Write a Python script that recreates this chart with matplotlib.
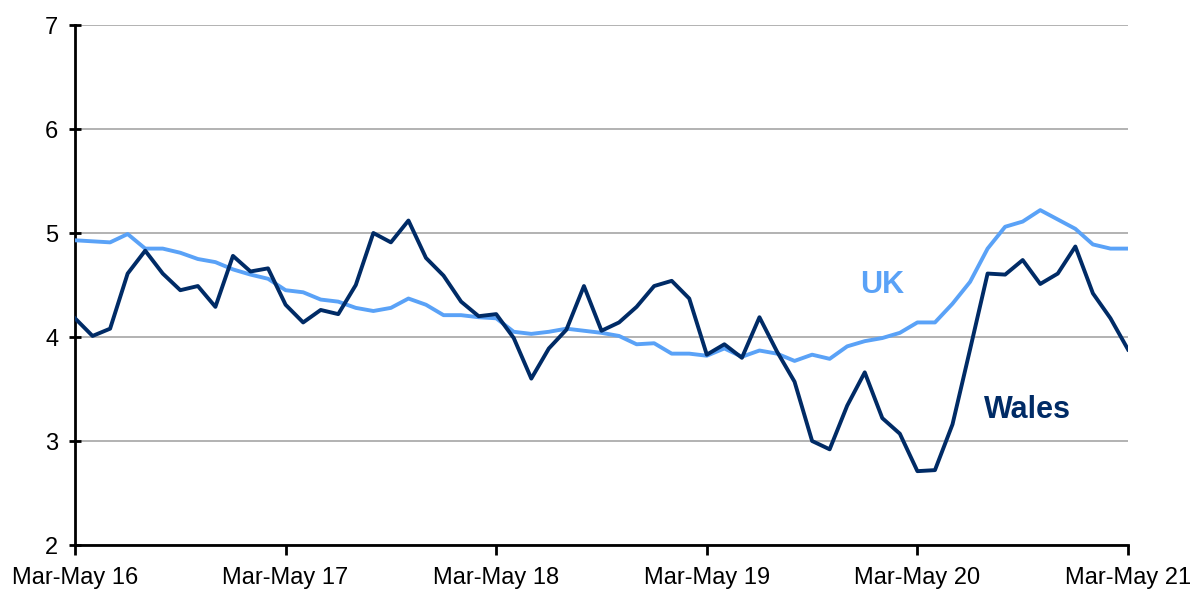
import matplotlib
matplotlib.use("Agg")
import matplotlib.pyplot as plt

plt.rcParams['font.family'] = ['Liberation Sans', 'DejaVu Sans']

tick_labels = ['Mar-May 16', 'Mar-May 17', 'Mar-May 18', 'Mar-May 19', 'Mar-May 20', 'Mar-May 21']

wales = [4.18, 4.01, 4.08, 4.61, 4.83, 4.61, 4.45, 4.49, 4.29, 4.78,
         4.63, 4.66, 4.31, 4.14, 4.26, 4.22, 4.50, 5.00, 4.91, 5.12,
         4.76, 4.59, 4.34, 4.20, 4.22, 3.99, 3.60, 3.89, 4.07, 4.49,
         4.06, 4.14, 4.29, 4.49, 4.54, 4.37, 3.83, 3.93, 3.80, 4.19,
         3.86, 3.57, 3.00, 2.92, 3.34, 3.66, 3.22, 3.07, 2.71, 2.72,
         3.16, 3.88, 4.61, 4.60, 4.74, 4.51, 4.61, 4.87, 4.42, 4.18,
         3.88]

uk = [4.93, 4.92, 4.91, 4.99, 4.85, 4.85, 4.81, 4.75, 4.72, 4.65,
      4.60, 4.56, 4.45, 4.43, 4.36, 4.34, 4.28, 4.25, 4.28, 4.37,
      4.31, 4.21, 4.21, 4.19, 4.18, 4.05, 4.03, 4.05, 4.08, 4.06,
      4.04, 4.01, 3.93, 3.94, 3.84, 3.84, 3.82, 3.89, 3.81, 3.87,
      3.84, 3.77, 3.83, 3.79, 3.91, 3.96, 3.99, 4.04, 4.14, 4.14,
      4.32, 4.53, 4.85, 5.06, 5.11, 5.22, 5.13, 5.04, 4.89, 4.85,
      4.85]

navy = '#002b66'
light = '#5aa2f7'

fig = plt.figure(figsize=(11.93, 5.90), dpi=100)
ax = fig.add_axes([75 / 1193, 1 - 545 / 590, (1128 - 75) / 1193, (545 - 25) / 590])

x = list(range(len(wales)))
ax.plot(x, uk, color=light, lw=2.8, zorder=3)
ax.plot(x, wales, color=navy, lw=2.8, zorder=4)

ax.set_xlim(0, len(wales) - 1)
ax.set_ylim(2, 7)
ax.set_yticks([2, 3, 4, 5, 6, 7])
ax.set_xticks(range(0, len(wales), 12))
ax.set_xticklabels(tick_labels)
ax.yaxis.grid(True, color='#a6a6a6', lw=1.2)
ax.set_axisbelow(True)

for side in ['top', 'right']:
    ax.spines[side].set_visible(False)
ax.spines['left'].set_linewidth(2)
ax.spines['bottom'].set_linewidth(2)
ax.tick_params(axis='y', direction='inout', length=8, width=2, labelsize=17, pad=8)
ax.tick_params(axis='x', direction='out', length=7, width=2, labelsize=17, pad=9)

ax.text(46, 4.5, 'UK', color=light, fontsize=22, fontweight='bold', ha='center', va='center')
ax.text(54.3, 3.3, 'Wales', color=navy, fontsize=22, fontweight='bold', ha='center', va='center')

fig.savefig('out.png', dpi=100)
